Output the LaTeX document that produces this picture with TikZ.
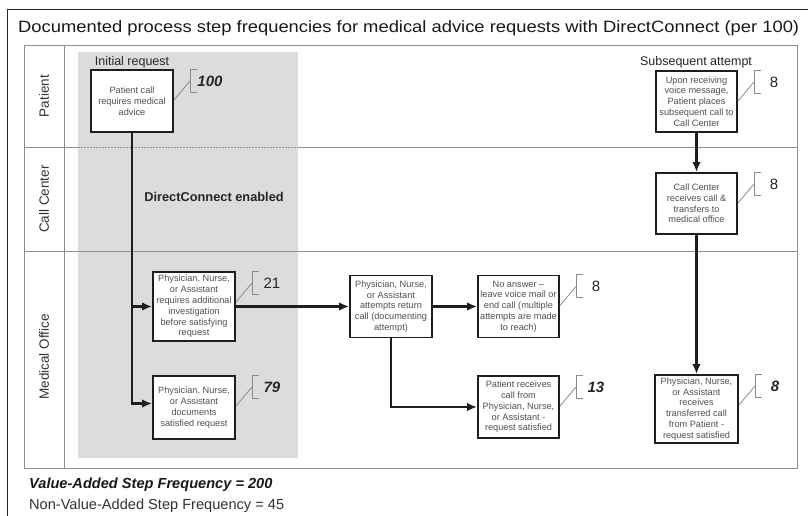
\documentclass[tikz,border=0pt]{standalone}
\usepackage{fontspec}
\setmainfont{Liberation Sans}
\usetikzlibrary{calc,arrows.meta}
\definecolor{shadegray}{HTML}{DCDCDC}
\definecolor{laneline}{HTML}{909090}
\definecolor{boxtext}{HTML}{505050}
\definecolor{boxline}{HTML}{1E1E1E}
\definecolor{brk}{HTML}{8A8A8A}
\tikzset{
  stepbox/.style={draw=boxline, line width=1.9pt, fill=white, text=boxtext, align=center,
    inner sep=1pt, font=\fontsize{9.2}{10.8}\selectfont},
  flow/.style={draw=boxline, line width=2.2pt, -{Latex[length=10pt,width=8.5pt]}},
  lane/.style={draw=laneline, line width=0.9pt},
  bracketline/.style={draw=brk, line width=0.8pt},
  numreg/.style={font=\fontsize{15}{17}\selectfont, text=black!85, inner sep=0pt},
  numbold/.style={font=\fontsize{15}{17}\selectfont\bfseries\itshape, text=black!85, inner sep=0pt},
  lanelabel/.style={rotate=90, font=\fontsize{13.5}{15}\selectfont, text=black!80, inner sep=0pt},
  heading/.style={font=\fontsize{12.5}{14}\selectfont, text=black!85, inner sep=0pt},
}
\newcommand\stepcallout[3]{%
  \draw[bracketline] ($(#1.north east)+(23,0)$) -- ++(-7,0) -- ++(0,23) -- ++(7,0);
  \draw[bracketline] ($(#1.north east)+(0,31)$) -- ($(#1.north east)+(16,12)$);
  \node[#3] (#1num) at ($(#1.north east)+(36,12)$) {#2};
}
\begin{document}
\begin{tikzpicture}[x=1pt,y=-1pt]
\useasboundingbox (0,0) rectangle (808,516);
\fill[white] (0,0) rectangle (808,516);
% outer frame
\draw[black!85, line width=1pt] (7,520) -- (7,10) -- (812,10);
% title
\node[anchor=west, inner sep=0pt, font=\fontsize{16.4}{19}\selectfont, text=black!90] (title) at (18,28)
  {\scalebox{1.12}[1]{Documented process step frequencies for medical advice requests with DirectConnect (per 100)}};
% shaded region
\fill[shadegray] (78,52) rectangle (298,458);
% lane table
\draw[lane] (24,45) rectangle (797,468);
\draw[lane] (64,45) -- (64,468);
\draw[lane] (24,147) -- (78,147);
\draw[lane] (298,147) -- (797,147);
\draw[laneline, line width=0.9pt, dash pattern=on 1.5pt off 1.5pt] (78,147) -- (298,147);
\draw[lane] (24,251) -- (797,251);
% lane labels
\node[lanelabel] (lp) at (44,96) {Patient};
\node[lanelabel] (lc) at (44,199) {Call Center};
\node[lanelabel] (lm) at (44,357) {Medical Office};
% headings
\node[heading] (hi) at (132,62) {Initial request};
\node[heading] (hs) at (696,62) {Subsequent attempt};
\node[font=\fontsize{12.8}{14}\selectfont\bfseries, text=black!85, inner sep=0pt] (dc) at (214,197) {DirectConnect enabled};
% boxes
\node[stepbox, minimum width=82pt, minimum height=62pt] (b1) at (132,101) {Patient call\\requires medical\\advice};
\node[stepbox, minimum width=82pt, minimum height=69pt] (b2) at (194,306.5) {Physician, Nurse,\\or Assistant\\requires additional\\investigation\\before satisfying\\request};
\node[stepbox, minimum width=82pt, minimum height=63pt] (b3) at (194,407.5) {Physician, Nurse,\\or Assistant\\documents\\satisfied request};
\node[stepbox, minimum width=82pt, minimum height=62pt] (b4) at (391,306.5) {Physician, Nurse,\\or Assistant\\attempts return\\call (documenting\\attempt)};
\node[stepbox, minimum width=81pt, minimum height=62pt] (b5) at (518.5,306.5) {No answer --\\leave voice mail or\\end call (multiple\\attempts are made\\to reach)};
\node[stepbox, minimum width=81pt, minimum height=62pt] (b6) at (518.5,407) {Patient receives\\call from\\Physician, Nurse,\\or Assistant -\\request satisfied};
\node[stepbox, minimum width=81pt, minimum height=61pt] (b7) at (696.5,101.5) {Upon receiving\\voice message,\\Patient places\\subsequent call to\\Call Center};
\node[stepbox, minimum width=81pt, minimum height=61pt] (b8) at (696.5,203.5) {Call Center\\receives call \&\\transfers to\\medical office};
\node[stepbox, minimum width=83pt, minimum height=68pt] (b9) at (696.5,409) {Physician, Nurse,\\or Assistant\\receives\\transferred call\\from Patient -\\request satisfied};
% connectors
\draw[flow] (b1.south) |- (b2.west);
\draw[flow] (b1.south) |- ([yshift=4pt]b3.west);
\draw[flow] (b2.east) -- (b4.west);
\draw[flow] (b4.east) -- (b5.west);
\draw[flow] (b4.south) |- (b6.west);
\draw[flow] (b7.south) -- (b8.north);
\draw[flow] (b8.south) -- (b9.north);
% callouts
\stepcallout{b1}{100}{numbold}
\stepcallout{b2}{21}{numreg}
\stepcallout{b3}{79}{numbold}
\stepcallout{b5}{8}{numreg}
\stepcallout{b6}{13}{numbold}
\stepcallout{b7}{8}{numreg}
\stepcallout{b8}{8}{numreg}
\stepcallout{b9}{8}{numbold}
% bottom texts
\node[anchor=west, inner sep=0pt, font=\fontsize{14.6}{16}\selectfont\bfseries\itshape, text=black!90] (va) at (29,485) {Value-Added Step Frequency = 200};
\node[anchor=west, inner sep=0pt, font=\fontsize{14.6}{16}\selectfont, text=black!80] (nva) at (29,506) {Non-Value-Added Step Frequency = 45};
\end{tikzpicture}
\end{document}
